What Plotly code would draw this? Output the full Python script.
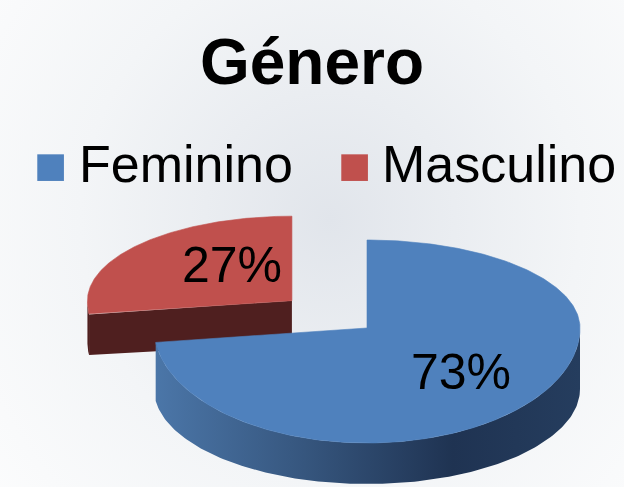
import numpy as np
import plotly.graph_objects as go

# ---- data ----
categories = ["Feminino", "Masculino"]
values = [73, 27]
pct_labels = ["73%", "27%"]

# ---- style ----
W, H = 624, 487
top_colors = ["#4f81bd", "#c0504d"]
side_colors = [
    [[0.0, "#4b76a8"], [0.35, "#36567e"], [0.7, "#1f3352"], [1.0, "#253d5e"]],
    [[0.0, "#4f1f1f"], [1.0, "#4f1f1f"]],
]
FONT = "Liberation Sans, Arial, sans-serif"
CX, CY, RX = 367.0, 328.0, 213.0          # pie geometry in pixel space
RY_BACK, RY_FRONT, RY_BOT_FRONT = 88.0, 115.0, 95.0   # simple perspective
depths = [61.0, 43.0]
pulls = [0.0, 0.47]
scales = [1.0, 0.96]
label_r = [(0.59, 0.58), (0.39, 0.64)]


def ry_of(th, front):
    c = np.cos(np.radians(th))
    return np.where(c > 0, RY_BACK, front)


def pt(cx, cy, th, fx=1.0, fy=1.0, front=RY_FRONT):
    r = np.radians(th)
    return cx + fx * RX * np.sin(r), cy - fy * ry_of(th, front) * np.cos(r)


fig = go.Figure()

# background soft radial gradient
fig.add_trace(go.Scatter(
    x=[-170, 830, 830, -170, -170], y=[-300, -300, 740, 740, -300],
    mode="lines", line=dict(width=0), fill="toself", hoverinfo="skip",
    fillgradient=dict(type="radial",
                      colorscale=[[0, "#e1e5eb"], [0.5, "#f3f5f7"], [1, "#ffffff"]]),
    showlegend=False))

total = float(sum(values))
starts = np.cumsum([0] + values[:-1]) / total * 360.0
ends = np.cumsum(values) / total * 360.0

slices = []
for i, v in enumerate(values):
    a0, a1 = starts[i], ends[i]
    mid = (a0 + a1) / 2
    ox, oy = pt(0, 0, mid, pulls[i], pulls[i])
    slices.append((a0, a1, mid, CX + ox, CY + oy))

annots = []
# draw the exploded (back) slice first
for i in reversed(range(len(values))):
    a0, a1, mid, cx, cy = slices[i]
    d = depths[i]
    s = scales[i]
    # cut face at start angle, visible when it faces the viewer
    if 180 < a0 < 360:
        px, py = pt(cx, cy, a0, s, s)
        bx, by = pt(cx, cy + d, a0, s, s, RY_BOT_FRONT)
        fig.add_trace(go.Scatter(
            x=[cx, px, bx, cx, cx], y=[cy, py, by, cy + d, cy],
            mode="lines", line=dict(width=0), fill="toself",
            fillcolor=side_colors[i][0][1], hoverinfo="skip", showlegend=False))
    # outer wall: visible part between 90 and 270 degrees
    lo, hi = max(a0, 90.0), min(a1, 270.0)
    if hi > lo:
        th = np.linspace(lo, hi, 160)
        xs, ys = pt(cx, cy, th, s, s)
        xb, yb = pt(cx, cy + d, th, s, s, RY_BOT_FRONT)
        X = np.concatenate([xs, xb[::-1], xs[:1]])
        Y = np.concatenate([ys, yb[::-1], ys[:1]])
        fig.add_trace(go.Scatter(
            x=X, y=Y, mode="lines", line=dict(width=0), fill="toself",
            fillgradient=dict(type="horizontal", colorscale=side_colors[i]),
            hoverinfo="skip", showlegend=False))
    # top surface
    th = np.linspace(a0, a1, 300)
    xs, ys = pt(cx, cy, th, s, s)
    X = np.concatenate([[cx], xs, [cx]])
    Y = np.concatenate([[cy], ys, [cy]])
    fig.add_trace(go.Scatter(
        x=X, y=Y, mode="lines", line=dict(width=0.6, color=top_colors[i]),
        fill="toself", fillcolor=top_colors[i], hoverinfo="skip",
        name=categories[i], showlegend=False))
    lx, ly = pt(cx, cy, mid, label_r[i][0] * s, label_r[i][1] * s)
    annots.append(dict(x=float(lx), y=float(ly), xref="x", yref="y", text=pct_labels[i],
                       showarrow=False, font=dict(family=FONT, size=50, color="#000000")))

# legend (coloured square glyphs + category text)
sq_x = [32, 336]
txt_x = [77, 380]
for i, c in enumerate(categories):
    annots.append(dict(
        x=sq_x[i], y=165, xref="x", yref="y", xanchor="left", yanchor="middle",
        text="■", showarrow=False,
        font=dict(family=FONT, size=55, color=top_colors[i])))
    annots.append(dict(
        x=txt_x[i], y=164, xref="x", yref="y", xanchor="left", yanchor="middle",
        text=c, showarrow=False, font=dict(family=FONT, size=52, color="#000000")))

fig.update_layout(
    width=W, height=H,
    margin=dict(l=0, r=0, t=0, b=0),
    paper_bgcolor="#ffffff", plot_bgcolor="#ffffff",
    title=dict(text="<b>Género</b>", x=0.5, xanchor="center",
               y=1 - 62 / H, yanchor="middle",
               font=dict(family=FONT, size=64, color="#000000")),
    xaxis=dict(range=[0, W], visible=False, fixedrange=True),
    yaxis=dict(range=[H, 0], visible=False, fixedrange=True),
    annotations=annots,
    showlegend=False,
)

fig.write_html(
    "out.html",
    config={"displayModeBar": False},
    post_script="document.body.style.margin='0px';document.body.style.overflow='hidden';",
)
